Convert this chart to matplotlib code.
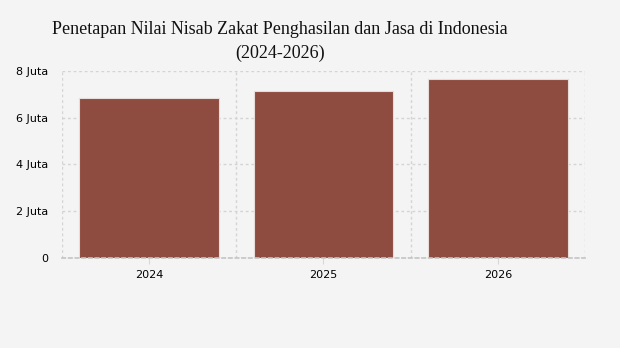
import matplotlib.pyplot as plt
import numpy as np

years = ['2024', '2025', '2026']
nisab = [6.86, 7.14, 7.65]  # juta rupiah
yticks = [0, 2, 4, 6, 8]
ytick_labels = ['0', '2 Juta', '4 Juta', '6 Juta', '8 Juta']

bg = '#f4f4f4'
fig = plt.figure(figsize=(6.2, 3.48), dpi=100, facecolor=bg)
ax = fig.add_axes([0.1, 0.259, 0.8435, 0.537], facecolor=bg)

x = np.arange(len(years))
ax.bar(x, nisab, width=0.8, color='#8e4b3f', edgecolor='#e6dcda', linewidth=0.8, zorder=2)

ax.set_xlim(-0.5, 2.5)
ax.set_ylim(0, 8)
ax.set_yticks(yticks)
ax.set_yticklabels(ytick_labels)
ax.set_xticks(x)
ax.set_xticklabels(years)
ax.set_xticks([-0.5, 0.5, 1.5, 2.5], minor=True)

ax.grid(axis='y', which='major', color='#d4d4d4', linestyle=(0, (2, 2)), linewidth=1, zorder=3)
ax.grid(axis='x', which='minor', color='#d4d4d4', linestyle=(0, (2, 2)), linewidth=1, zorder=1)
ax.tick_params(axis='x', which='minor', length=0)
ax.tick_params(axis='x', which='major', length=4, color='#d8d8d8', labelsize=8, pad=5)
ax.tick_params(axis='y', length=0, labelsize=8, pad=10)
for s in ['top', 'right', 'left']:
    ax.spines[s].set_visible(False)
ax.spines['bottom'].set_color('#c4c4c4')
ax.spines['bottom'].set_linestyle((0, (2, 2)))
ax.spines['bottom'].set_linewidth(1.2)

fig.text(280/620, 1 - 30/348, 'Penetapan Nilai Nisab Zakat Penghasilan dan Jasa di Indonesia',
         ha='center', va='center', fontsize=13, family='Liberation Serif', color='#111111')
fig.text(280/620, 1 - 53/348, '(2024-2026)',
         ha='center', va='center', fontsize=13, family='Liberation Serif', color='#111111')

fig.savefig('out.png', dpi=100, facecolor=bg)
